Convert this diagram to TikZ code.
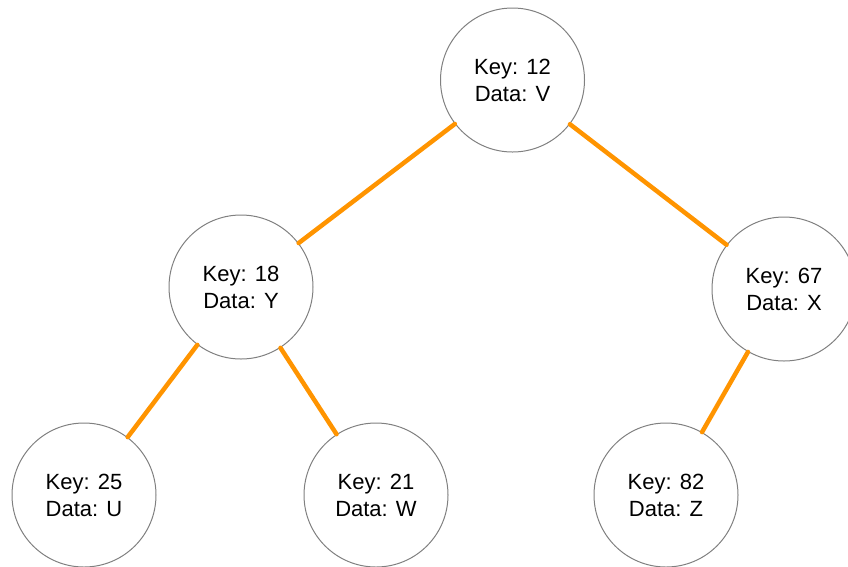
\documentclass[tikz,border=0pt]{standalone}
\usepackage{fontspec}
\setmainfont{Liberation Sans}
\begin{document}
\begin{tikzpicture}[x=1pt,y=-1pt,
  treenode/.style={circle, draw=black!50, line width=1pt, fill=white,
    minimum size=144pt, inner sep=0pt, align=center,
    font=\fontsize{22}{27}\selectfont},
  link/.style={draw=orange!80!yellow, color={rgb,255:red,255;green,148;blue,0},
    line width=4.5pt, line cap=round}]
  \useasboundingbox (0,0) rectangle (848,566);
  % nodes of the binary tree
  \node[treenode] (n12) at (512.5,80) {Key: 12\\Data: V};
  \node[treenode] (n18) at (241,287) {Key: 18\\Data: Y};
  \node[treenode] (n67) at (784,289) {Key: 67\\Data: X};
  \node[treenode] (n25) at (84,495) {Key: 25\\Data: U};
  \node[treenode] (n21) at (376,495) {Key: 21\\Data: W};
  \node[treenode] (n82) at (666,495) {Key: 82\\Data: Z};
  % parent-child links
  \draw[link] (n12) -- (n18);
  \draw[link] (n12) -- (n67);
  \draw[link] (n18) -- (n25);
  \draw[link] (n18) -- (n21);
  \draw[link] (n67) -- (n82);
\end{tikzpicture}
\end{document}
